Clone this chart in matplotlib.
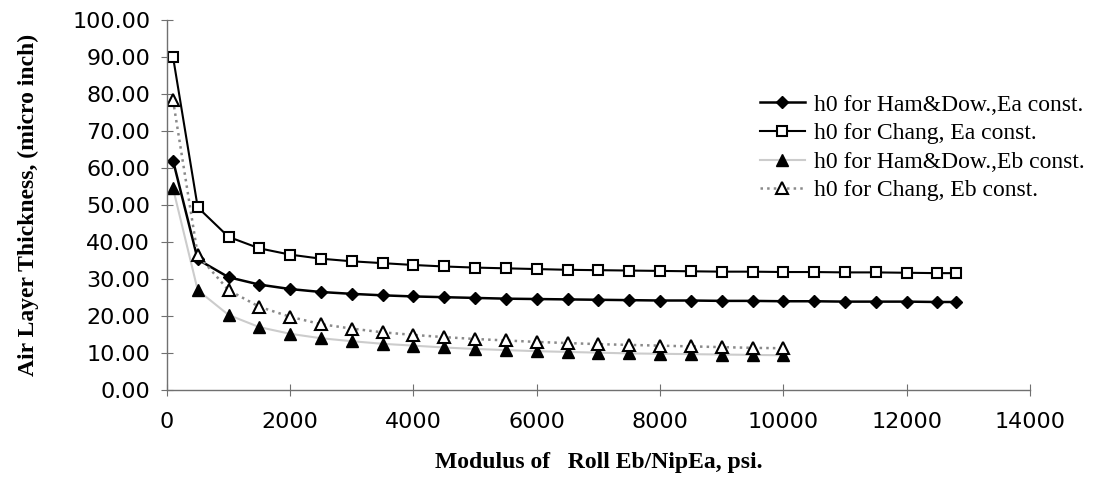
import numpy as np
import matplotlib.pyplot as plt

# x values (psi)
x_ea = [100, 500, 1000, 1500, 2000, 2500, 3000, 3500, 4000, 4500, 5000, 5500, 6000,
        6500, 7000, 7500, 8000, 8500, 9000, 9500, 10000, 10500, 11000, 11500, 12000,
        12500, 12800]
x_eb = [100, 500, 1000, 1500, 2000, 2500, 3000, 3500, 4000, 4500, 5000, 5500, 6000,
        6500, 7000, 7500, 8000, 8500, 9000, 9500, 10000]

# h0, micro inch
ham_ea = [62.0, 35.3, 30.5, 28.5, 27.3, 26.5, 26.0, 25.6, 25.3, 25.1, 24.9, 24.7, 24.6,
          24.5, 24.4, 24.3, 24.2, 24.2, 24.1, 24.1, 24.0, 24.0, 23.9, 23.9, 23.9, 23.8, 23.8]
chang_ea = [90.0, 49.4, 41.4, 38.3, 36.6, 35.5, 34.8, 34.3, 33.8, 33.4, 33.1, 32.9, 32.7,
            32.5, 32.4, 32.3, 32.2, 32.1, 32.0, 32.0, 31.9, 31.9, 31.8, 31.8, 31.7, 31.6, 31.6]
ham_eb = [54.5, 27.0, 20.3, 17.0, 15.2, 14.0, 13.2, 12.5, 12.0, 11.5, 11.1, 10.8, 10.5,
          10.3, 10.1, 9.9, 9.8, 9.7, 9.6, 9.5, 9.4]
chang_eb = [78.3, 36.5, 27.0, 22.5, 19.8, 17.8, 16.6, 15.6, 14.9, 14.3, 13.8, 13.4, 13.0,
            12.7, 12.4, 12.2, 12.0, 11.8, 11.6, 11.4, 11.3]

fig = plt.figure(figsize=(10.98, 4.9), dpi=100)
ax = fig.add_axes([0.152, 0.204, 0.786, 0.755])

ax.plot(x_ea, ham_ea, '-', color='black', lw=1.8, marker='D', ms=6.5,
        mfc='black', mec='black', label='h0 for Ham&Dow.,Ea const.')
ax.plot(x_ea, chang_ea, '-', color='black', lw=1.5, marker='s', ms=7.5,
        mfc='white', mec='black', mew=1.5, label='h0 for Chang, Ea const.')
ax.plot(x_eb, ham_eb, '-', color='#cccccc', lw=1.5, marker='^', ms=8,
        mfc='black', mec='black', label='h0 for Ham&Dow.,Eb const.')
ax.plot(x_eb, chang_eb, ':', color='#8a8a8a', lw=1.8, marker='^', ms=8,
        mfc='white', mec='black', mew=1.5, label='h0 for Chang, Eb const.')

ax.set_xlim(0, 14000)
ax.set_ylim(0, 100)
ax.set_xticks(np.arange(0, 14001, 2000))
ax.set_yticks(np.arange(0, 100.1, 10))
ax.set_yticklabels(['%.2f' % v for v in np.arange(0, 100.1, 10)])

for s in ['top', 'right']:
    ax.spines[s].set_visible(False)
for s in ['left', 'bottom']:
    ax.spines[s].set_color('#707070')
    ax.spines[s].set_linewidth(1.0)
ax.tick_params(direction='inout', length=8, color='#707070',
               labelsize=16, pad=8)
ax.tick_params(axis='x', pad=12)

ax.set_ylabel('Air Layer Thickness, (micro inch)', fontfamily='Liberation Serif',
              fontweight='bold', fontsize=17, labelpad=24)
ax.set_xlabel('Modulus of   Roll Eb/NipEa, psi.', fontfamily='Liberation Serif',
              fontweight='bold', fontsize=17, labelpad=14)

leg = ax.legend(loc='upper left', bbox_to_anchor=(0.687, 0.80), frameon=False,
                prop={'family': 'Liberation Serif', 'size': 17},
                handlelength=1.9, handletextpad=0.4, labelspacing=0.3,
                borderaxespad=0, borderpad=0)

fig.savefig('out.png', dpi=100)
